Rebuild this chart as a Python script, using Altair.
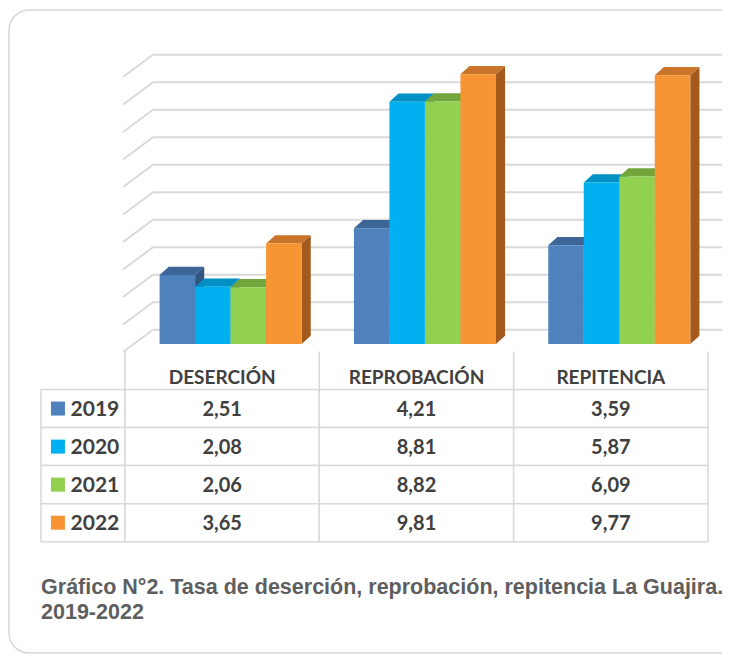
import altair as alt
import pandas as pd

# ---------------- data ----------------
categories = ["DESERCIÓN", "REPROBACIÓN", "REPITENCIA"]
years = ["2019", "2020", "2021", "2022"]
v2019 = [2.51, 4.21, 3.59]
v2020 = [2.08, 8.81, 5.87]
v2021 = [2.06, 8.82, 6.09]
v2022 = [3.65, 9.81, 9.77]
grid_ticks = [0, 1, 2, 3, 4, 5, 6, 7, 8, 9, 10]
caption_lines = [
    "Gráfico N°2. Tasa de deserción, reprobación, repitencia La Guajira.",
    "2019-2022",
]

# ---------------- styles ----------------
front_colors = ["#4F81BD", "#00B0F0", "#92D050", "#F79433"]
top_colors = ["#3C6598", "#0090C4", "#72A63D", "#C97429"]
side_colors = ["#32557F", "#007BA8", "#5F8C31", "#A35A1C"]
GRID = "#D9D9D9"
TEXT = "#404040"
FONT = "Lato"

# ---------------- layout ----------------
W, H = 714, 647
X_DOMAIN = [-0.602, 3.072]          # one unit = one category column
Y_DOMAIN = [-11.309, 12.218]        # value units
GROUP_OFF, BAR_W = 0.178, 0.1827
DX, DY = 0.047, 0.30                # bar depth
WALL_X0, WALL_X1 = -0.010, 0.144    # side wall diagonals
WALL_Y0, WALL_Y1 = -0.29, 0.52
LABEL_X0 = -0.432
SQ_X, YEAR_X = -0.345, -0.280
TABLE_RANGE = [343.5, 533.7]
CAPTION_RANGE = [586, 611]

series = [v2019, v2020, v2021, v2022]

xs = alt.Scale(domain=X_DOMAIN, nice=False, zero=False)
ys = alt.Scale(domain=Y_DOMAIN, nice=False, zero=False)

front, tops, sides = [], [], []
for gi, cat in enumerate(categories):
    for si, yr in enumerate(years):
        v = series[si][gi]
        xl = gi + GROUP_OFF + si * BAR_W
        xr = xl + BAR_W
        key = f"{cat}-{yr}"
        front.append(dict(key=key, xl=xl, xr=xr, y0=0.0, v=v, col=front_colors[si]))
        tops.append(dict(key=key, yy=v, xa=xl, xb=xr, col=top_colors[si]))
        tops.append(dict(key=key, yy=v + DY, xa=xl + DX, xb=xr + DX, col=top_colors[si]))
        sides.append(dict(key=key, xx=xr, ya=0.0, yb=v, col=side_colors[si]))
        sides.append(dict(key=key, xx=xr + DX, ya=DY, yb=v + DY, col=side_colors[si]))

front_df = pd.DataFrame(front)
tops_df = pd.DataFrame(tops)
sides_df = pd.DataFrame(sides)

grid_df = pd.DataFrame(
    [dict(k=k, hx0=WALL_X1, hx1=3.3, hy=k + WALL_Y1,
          dx0=WALL_X0, dx1=WALL_X1, dy0=k + WALL_Y0, dy1=k + WALL_Y1) for k in grid_ticks]
)

noaxis = None

card = alt.Chart(pd.DataFrame({"a": [0]})).mark_rect(
    fill="white", stroke="#D6D6D6", strokeWidth=1.5, cornerRadius=20
).encode(x=alt.value(1), x2=alt.value(760), y=alt.value(2), y2=alt.value(645))

grid_h = alt.Chart(grid_df).mark_rule(color=GRID, strokeWidth=2).encode(
    x=alt.X("hx0:Q", scale=xs, axis=noaxis), x2="hx1:Q",
    y=alt.Y("hy:Q", scale=ys, axis=noaxis),
)
grid_d = alt.Chart(grid_df).mark_rule(color=GRID, strokeWidth=2).encode(
    x=alt.X("dx0:Q", scale=xs, axis=noaxis), x2="dx1:Q",
    y=alt.Y("dy0:Q", scale=ys, axis=noaxis), y2="dy1:Q",
)

side_layer = alt.Chart(sides_df).mark_area(strokeWidth=0, opacity=1).encode(
    x=alt.X("xx:Q", scale=xs, axis=noaxis),
    y=alt.Y("ya:Q", scale=ys, axis=noaxis), y2="yb:Q",
    detail="key:N",
    color=alt.Color("col:N", scale=None),
)
top_layer = alt.Chart(tops_df).mark_area(orient="horizontal", strokeWidth=0, opacity=1).encode(
    y=alt.Y("yy:Q", scale=ys, axis=noaxis),
    x=alt.X("xa:Q", scale=xs, axis=noaxis), x2="xb:Q",
    detail="key:N",
    color=alt.Color("col:N", scale=None),
)
front_layer = alt.Chart(front_df).mark_rect(strokeWidth=0).encode(
    x=alt.X("xl:Q", scale=xs, axis=noaxis), x2="xr:Q",
    y=alt.Y("y0:Q", scale=ys, axis=noaxis), y2="v:Q",
    color=alt.Color("col:N", scale=None),
)

# ---------------- table ----------------
rows_domain = ["hdr"] + years
ts = alt.Scale(domain=rows_domain, range=TABLE_RANGE, paddingInner=0, paddingOuter=0)

cells, vals = [], []
for si, yr in enumerate(years):
    cells.append(dict(row=yr, c0=LABEL_X0, c1=0.0))
    for gi in range(len(categories)):
        cells.append(dict(row=yr, c0=gi, c1=gi + 1))
        vals.append(dict(row=yr, cx=gi + 0.5,
                         label=f"{series[si][gi]:.2f}".replace(".", ",")))
cells_df = pd.DataFrame(cells)
vals_df = pd.DataFrame(vals)
hdr_df = pd.DataFrame([dict(row="hdr", cx=gi + 0.5, label=c) for gi, c in enumerate(categories)])
sep_df = pd.DataFrame([dict(row="hdr", c0=b - 0.004, c1=b + 0.004) for b in range(len(categories) + 1)])
leg_df = pd.DataFrame([dict(row=yr, sx=SQ_X, tx=YEAR_X, year=yr, col=front_colors[i])
                       for i, yr in enumerate(years)])

cell_layer = alt.Chart(cells_df).mark_rect(fill="white", stroke=GRID, strokeWidth=1.5).encode(
    x=alt.X("c0:Q", scale=xs, axis=noaxis), x2="c1:Q",
    y=alt.Y("row:N", scale=ts, axis=noaxis),
)
sep_layer = alt.Chart(sep_df).mark_rect(fill=GRID).encode(
    x=alt.X("c0:Q", scale=xs, axis=noaxis), x2="c1:Q",
    y=alt.Y("row:N", scale=ts, axis=noaxis),
)
hdr_layer = alt.Chart(hdr_df).mark_text(font=FONT, fontSize=19, fontWeight="bold",
                                         color=TEXT, baseline="middle", dy=7).encode(
    x=alt.X("cx:Q", scale=xs, axis=noaxis),
    y=alt.Y("row:N", scale=ts, axis=noaxis),
    text="label:N",
)
val_layer = alt.Chart(vals_df).mark_text(font=FONT, fontSize=20, fontWeight="bold",
                                          color=TEXT, baseline="middle", dy=1).encode(
    x=alt.X("cx:Q", scale=xs, axis=noaxis),
    y=alt.Y("row:N", scale=ts, axis=noaxis),
    text="label:N",
)
sq_layer = alt.Chart(leg_df).mark_square(size=196, opacity=1).encode(
    x=alt.X("sx:Q", scale=xs, axis=noaxis),
    y=alt.Y("row:N", scale=ts, axis=noaxis),
    color=alt.Color("col:N", scale=None),
)
year_layer = alt.Chart(leg_df).mark_text(font=FONT, fontSize=21, fontWeight="bold",
                                          color=TEXT, align="left", baseline="middle", dy=1).encode(
    x=alt.X("tx:Q", scale=xs, axis=noaxis),
    y=alt.Y("row:N", scale=ts, axis=noaxis),
    text="year:N",
)

cap_df = pd.DataFrame({"line": caption_lines, "cx": [LABEL_X0] * len(caption_lines)})
cap_scale = alt.Scale(domain=caption_lines, range=CAPTION_RANGE, padding=0)
cap_layer = alt.Chart(cap_df).mark_text(font="Liberation Sans", fontSize=21.5, fontWeight="bold",
                                         color="#5E5E5E", align="left", baseline="alphabetic").encode(
    x=alt.X("cx:Q", scale=xs, axis=noaxis),
    y=alt.Y("line:O", scale=cap_scale, axis=noaxis),
    text="line:N",
)

chart = alt.layer(
    card, grid_h, grid_d, side_layer, top_layer, front_layer,
    cell_layer, sep_layer, hdr_layer, val_layer, sq_layer, year_layer, cap_layer,
).resolve_scale(y="independent").properties(
    width=W, height=H, padding=0, autosize=alt.AutoSizeParams(type="none"),
    background="white",
).configure_view(stroke=None)

chart.save("out.html", embed_options={"renderer": "svg", "actions": False})
